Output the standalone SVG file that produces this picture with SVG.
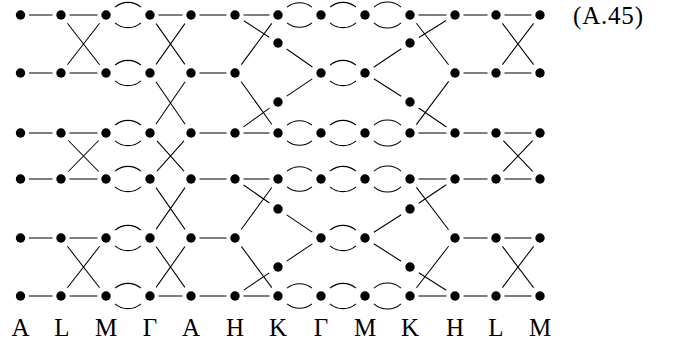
<svg xmlns="http://www.w3.org/2000/svg" width="684" height="344" viewBox="0 0 684 344">
<style>
.e{stroke:#000;stroke-width:1.05;fill:none;stroke-linecap:butt}
.n{fill:#000}
.t{font-family:"Liberation Serif","Times New Roman",serif;font-size:25px;fill:#000}
</style>
<rect width="684" height="344" fill="#fff"/>
<g id="connectors" class="e">
<path d="M29 15H52.5M69.5 15H97.5M158.5 15H182.5M199.5 15H226.5M243.5 15H269.5M418.5 15H446.5M463.5 15H487.5M504.5 15H531.5"/>
<path d="M29 73H52.5M69.5 73H97.5M199.5 73H226.5M463.5 73H487.5M504.5 73H531.5"/>
<path d="M29 133H52.5M69.5 133H97.5M199.5 133H226.5M243.5 133H269.5M418.5 133H446.5M463.5 133H487.5M504.5 133H531.5"/>
<path d="M29 179H52.5M69.5 179H97.5M199.5 179H226.5M243.5 179H269.5M418.5 179H446.5M463.5 179H487.5M504.5 179H531.5"/>
<path d="M29 238H52.5M69.5 238H97.5M199.5 238H226.5M463.5 238H487.5M504.5 238H531.5"/>
<path d="M29 296H52.5M69.5 296H97.5M158.5 296H182.5M199.5 296H226.5M243.5 296H269.5M418.5 296H446.5M463.5 296H487.5M504.5 296H531.5"/>
<path d="M115 7.2A20 20 0 0 1 141 7.2M115 22.8A20 20 0 0 0 141 22.8"/>
<path d="M287 7.2A20 20 0 0 1 312 7.2M287 22.8A20 20 0 0 0 312 22.8"/>
<path d="M330 7.2A20 20 0 0 1 356 7.2M330 22.8A20 20 0 0 0 356 22.8"/>
<path d="M374 7.2A20 20 0 0 1 401 7.2M374 22.8A20 20 0 0 0 401 22.8"/>
<path d="M115 65.2A20 20 0 0 1 141 65.2M115 80.8A20 20 0 0 0 141 80.8"/>
<path d="M330 65.2A20 20 0 0 1 356 65.2M330 80.8A20 20 0 0 0 356 80.8"/>
<path d="M115 125.2A20 20 0 0 1 141 125.2M115 140.8A20 20 0 0 0 141 140.8"/>
<path d="M287 125.2A20 20 0 0 1 312 125.2M287 140.8A20 20 0 0 0 312 140.8"/>
<path d="M330 125.2A20 20 0 0 1 356 125.2M330 140.8A20 20 0 0 0 356 140.8"/>
<path d="M374 125.2A20 20 0 0 1 401 125.2M374 140.8A20 20 0 0 0 401 140.8"/>
<path d="M115 171.2A20 20 0 0 1 141 171.2M115 186.8A20 20 0 0 0 141 186.8"/>
<path d="M287 171.2A20 20 0 0 1 312 171.2M287 186.8A20 20 0 0 0 312 186.8"/>
<path d="M330 171.2A20 20 0 0 1 356 171.2M330 186.8A20 20 0 0 0 356 186.8"/>
<path d="M374 171.2A20 20 0 0 1 401 171.2M374 186.8A20 20 0 0 0 401 186.8"/>
<path d="M115 230.2A20 20 0 0 1 141 230.2M115 245.8A20 20 0 0 0 141 245.8"/>
<path d="M330 230.2A20 20 0 0 1 356 230.2M330 245.8A20 20 0 0 0 356 245.8"/>
<path d="M115 288.2A20 20 0 0 1 141 288.2M115 303.8A20 20 0 0 0 141 303.8"/>
<path d="M287 288.2A20 20 0 0 1 312 288.2M287 303.8A20 20 0 0 0 312 303.8"/>
<path d="M330 288.2A20 20 0 0 1 356 288.2M330 303.8A20 20 0 0 0 356 303.8"/>
<path d="M374 288.2A20 20 0 0 1 401 288.2M374 303.8A20 20 0 0 0 401 303.8"/>
<path d="M67.4 23.3L99.6 64.7M67.4 64.7L99.6 23.3"/>
<path d="M68.3 140.5L98.7 171.5M68.3 171.5L98.7 140.5"/>
<path d="M67.4 246.3L99.6 287.7M67.4 287.7L99.6 246.3"/>
<path d="M156.1 23.6L184.9 64.4M156.1 64.4L184.9 23.6"/>
<path d="M155.9 81.7L185.1 124.3M155.9 124.3L185.1 81.7"/>
<path d="M157 140.8L184 171.2M157 171.2L184 140.8"/>
<path d="M156 187.6L185 229.4M156 229.4L185 187.6"/>
<path d="M156.1 246.6L184.9 287.4M156.1 287.4L184.9 246.6"/>
<path d="M502.4 23.4L533.6 64.6M502.4 64.6L533.6 23.4"/>
<path d="M503.3 140.6L532.7 171.4M503.3 171.4L532.7 140.6"/>
<path d="M502.4 246.4L533.6 287.6M502.4 287.6L533.6 246.4"/>
<path d="M243.8 20.7L269.2 37.3M241.3 64.6L271.8 23.4M241.1 81.5L271.9 124.5M243.5 126.9L269.5 108.1"/>
<path d="M286.6 49L312.4 67M286.7 96.1L312.3 78.9"/>
<path d="M373.7 67.2L401.3 48.8M373.8 78.7L401.2 96.3"/>
<path d="M418.9 37.5L446.1 20.5M416.4 23.3L448.6 64.7M416.3 124.6L448.7 81.4M418.7 108L446.4 127"/>
<path d="M243.6 185L269.4 203M241.2 229.5L271.8 187.5M241.3 246.4L271.8 287.6M243.7 290.1L269.3 272.9"/>
<path d="M286.7 214.9L312.3 232.1M286.7 261.1L312.3 243.9"/>
<path d="M373.8 232.3L401.2 214.7M373.8 243.7L401.2 261.3"/>
<path d="M418.7 203.2L446.3 184.8M416.4 187.4L448.6 229.7M416.4 287.7L448.6 246.3M418.8 272.7L446.2 290.3"/>
</g>
<g id="nodes" class="n">
<g id="n-15-0"><circle cx="20.5" cy="15" r="4.7"/></g>
<g id="n-15-1"><circle cx="61" cy="15" r="4.7"/></g>
<g id="n-15-2"><circle cx="106" cy="15" r="4.7"/></g>
<g id="n-15-3"><circle cx="150" cy="15" r="4.7"/></g>
<g id="n-15-4"><circle cx="191" cy="15" r="4.7"/></g>
<g id="n-15-5"><circle cx="235" cy="15" r="4.7"/></g>
<g id="n-15-6"><circle cx="278" cy="15" r="4.7"/></g>
<g id="n-15-7"><circle cx="321" cy="15" r="4.7"/></g>
<g id="n-15-8"><circle cx="365" cy="15" r="4.7"/></g>
<g id="n-15-9"><circle cx="410" cy="15" r="4.7"/></g>
<g id="n-15-10"><circle cx="455" cy="15" r="4.7"/></g>
<g id="n-15-11"><circle cx="496" cy="15" r="4.7"/></g>
<g id="n-15-12"><circle cx="540" cy="15" r="4.7"/></g>
<g id="n-43-6"><circle cx="278" cy="43" r="4.7"/></g>
<g id="n-43-9"><circle cx="410" cy="43" r="4.7"/></g>
<g id="n-73-0"><circle cx="20.5" cy="73" r="4.7"/></g>
<g id="n-73-1"><circle cx="61" cy="73" r="4.7"/></g>
<g id="n-73-2"><circle cx="106" cy="73" r="4.7"/></g>
<g id="n-73-3"><circle cx="150" cy="73" r="4.7"/></g>
<g id="n-73-4"><circle cx="191" cy="73" r="4.7"/></g>
<g id="n-73-5"><circle cx="235" cy="73" r="4.7"/></g>
<g id="n-73-7"><circle cx="321" cy="73" r="4.7"/></g>
<g id="n-73-8"><circle cx="365" cy="73" r="4.7"/></g>
<g id="n-73-10"><circle cx="455" cy="73" r="4.7"/></g>
<g id="n-73-11"><circle cx="496" cy="73" r="4.7"/></g>
<g id="n-73-12"><circle cx="540" cy="73" r="4.7"/></g>
<g id="n-102-6"><circle cx="278" cy="102" r="4.7"/></g>
<g id="n-102-9"><circle cx="410" cy="102" r="4.7"/></g>
<g id="n-133-0"><circle cx="20.5" cy="133" r="4.7"/></g>
<g id="n-133-1"><circle cx="61" cy="133" r="4.7"/></g>
<g id="n-133-2"><circle cx="106" cy="133" r="4.7"/></g>
<g id="n-133-3"><circle cx="150" cy="133" r="4.7"/></g>
<g id="n-133-4"><circle cx="191" cy="133" r="4.7"/></g>
<g id="n-133-5"><circle cx="235" cy="133" r="4.7"/></g>
<g id="n-133-6"><circle cx="278" cy="133" r="4.7"/></g>
<g id="n-133-7"><circle cx="321" cy="133" r="4.7"/></g>
<g id="n-133-8"><circle cx="365" cy="133" r="4.7"/></g>
<g id="n-133-9"><circle cx="410" cy="133" r="4.7"/></g>
<g id="n-133-10"><circle cx="455" cy="133" r="4.7"/></g>
<g id="n-133-11"><circle cx="496" cy="133" r="4.7"/></g>
<g id="n-133-12"><circle cx="540" cy="133" r="4.7"/></g>
<g id="n-179-0"><circle cx="20.5" cy="179" r="4.7"/></g>
<g id="n-179-1"><circle cx="61" cy="179" r="4.7"/></g>
<g id="n-179-2"><circle cx="106" cy="179" r="4.7"/></g>
<g id="n-179-3"><circle cx="150" cy="179" r="4.7"/></g>
<g id="n-179-4"><circle cx="191" cy="179" r="4.7"/></g>
<g id="n-179-5"><circle cx="235" cy="179" r="4.7"/></g>
<g id="n-179-6"><circle cx="278" cy="179" r="4.7"/></g>
<g id="n-179-7"><circle cx="321" cy="179" r="4.7"/></g>
<g id="n-179-8"><circle cx="365" cy="179" r="4.7"/></g>
<g id="n-179-9"><circle cx="410" cy="179" r="4.7"/></g>
<g id="n-179-10"><circle cx="455" cy="179" r="4.7"/></g>
<g id="n-179-11"><circle cx="496" cy="179" r="4.7"/></g>
<g id="n-179-12"><circle cx="540" cy="179" r="4.7"/></g>
<g id="n-209-6"><circle cx="278" cy="209" r="4.7"/></g>
<g id="n-209-9"><circle cx="410" cy="209" r="4.7"/></g>
<g id="n-238-0"><circle cx="20.5" cy="238" r="4.7"/></g>
<g id="n-238-1"><circle cx="61" cy="238" r="4.7"/></g>
<g id="n-238-2"><circle cx="106" cy="238" r="4.7"/></g>
<g id="n-238-3"><circle cx="150" cy="238" r="4.7"/></g>
<g id="n-238-4"><circle cx="191" cy="238" r="4.7"/></g>
<g id="n-238-5"><circle cx="235" cy="238" r="4.7"/></g>
<g id="n-238-7"><circle cx="321" cy="238" r="4.7"/></g>
<g id="n-238-8"><circle cx="365" cy="238" r="4.7"/></g>
<g id="n-238-10"><circle cx="455" cy="238" r="4.7"/></g>
<g id="n-238-11"><circle cx="496" cy="238" r="4.7"/></g>
<g id="n-238-12"><circle cx="540" cy="238" r="4.7"/></g>
<g id="n-267-6"><circle cx="278" cy="267" r="4.7"/></g>
<g id="n-267-9"><circle cx="410" cy="267" r="4.7"/></g>
<g id="n-296-0"><circle cx="20.5" cy="296" r="4.7"/></g>
<g id="n-296-1"><circle cx="61" cy="296" r="4.7"/></g>
<g id="n-296-2"><circle cx="106" cy="296" r="4.7"/></g>
<g id="n-296-3"><circle cx="150" cy="296" r="4.7"/></g>
<g id="n-296-4"><circle cx="191" cy="296" r="4.7"/></g>
<g id="n-296-5"><circle cx="235" cy="296" r="4.7"/></g>
<g id="n-296-6"><circle cx="278" cy="296" r="4.7"/></g>
<g id="n-296-7"><circle cx="321" cy="296" r="4.7"/></g>
<g id="n-296-8"><circle cx="365" cy="296" r="4.7"/></g>
<g id="n-296-9"><circle cx="410" cy="296" r="4.7"/></g>
<g id="n-296-10"><circle cx="455" cy="296" r="4.7"/></g>
<g id="n-296-11"><circle cx="496" cy="296" r="4.7"/></g>
<g id="n-296-12"><circle cx="540" cy="296" r="4.7"/></g>
</g>
<g id="labels" class="t" text-anchor="middle">
<text x="20.5" y="335.5">A</text>
<text x="62" y="335.5">L</text>
<text x="106" y="335.5">M</text>
<text x="150" y="335.5">Γ</text>
<text x="191" y="335.5">A</text>
<text x="235" y="335.5">H</text>
<text x="278" y="335.5">K</text>
<text x="321" y="335.5">Γ</text>
<text x="365" y="335.5">M</text>
<text x="410" y="335.5">K</text>
<text x="455" y="335.5">H</text>
<text x="496" y="335.5">L</text>
<text x="540" y="335.5">M</text>
</g>
<g id="equation-number">
<text class="t" x="573" y="24" textLength="70" lengthAdjust="spacing">(A.45)</text>
</g>
</svg>
